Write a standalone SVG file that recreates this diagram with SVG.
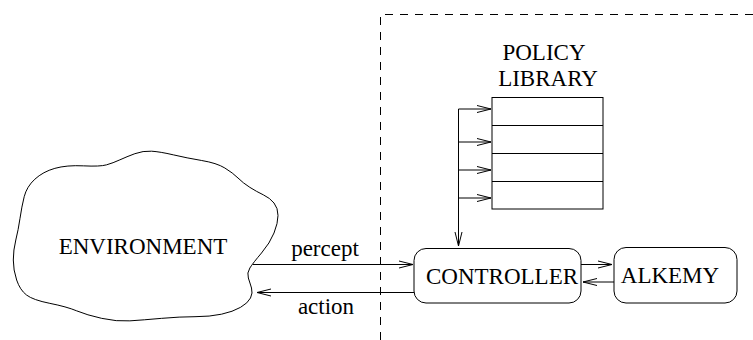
<svg xmlns="http://www.w3.org/2000/svg" width="753" height="340" viewBox="0 0 753 340">
<style>
.ln{fill:none;stroke:#000;stroke-width:1}
.bx{fill:#fff;stroke:#000;stroke-width:1}
.t{font-size:23px;fill:#000}
.dash{fill:none;stroke:#000;stroke-width:1;stroke-dasharray:8 7}
</style>
<defs>
<marker id="ah" markerUnits="userSpaceOnUse" markerWidth="20" markerHeight="12" refX="15" refY="6" orient="auto" viewBox="0 0 20 12">
<path d="M1,2.5 L15,6 L1,9.5" fill="none" stroke="#000" stroke-width="1"/>
</marker>
</defs>
<rect width="753" height="340" fill="#fff"/>
<g id="boundary">
<path class="dash" d="M380.5,340 L380.5,14.5 L753,14.5"/>
</g>
<g font-family="'Liberation Serif', 'Times New Roman', Times, serif">
<g id="environment">
<path class="ln" d="M24.2,196.7 Q26.7,186.7 34.85,179.2 Q43,171.7 54.85,168.35 Q66.7,165 83.35,165.85 Q100,166.7 106.5,164.85 Q113,163 119.85,159.85 Q126.7,156.7 134.85,153.7 Q143,150.7 151.5,151.2 Q160,151.7 173.35,154.85 Q186.7,158 201.7,160.5 Q216.7,163 224.85,168 Q233,173 238,178 Q243,183 249.850,187.35 Q256.7,191.7 263.35,194.85 Q270,198 274,203 Q278,208 278,215.5 Q278,223 274,233 Q270,243 261.5,253 Q253,263 249.85,268 Q246.7,273 248.35,278 Q250,283 251.5,288 Q253,293 250.5,298 Q248,303 240.5,307.35 Q233,311.7 221.5,314.2 Q210,316.7 195,316.7 Q180,316.7 161.5,318.35 Q143,320 129.85,320.85 Q116.7,321.7 101.7,318.35 Q86.7,315 76.7,310.85 Q66.7,306.7 49.85,303.35 Q33,300 26.5,295 Q20,290 16.65,280 Q13.3,270 13.3,260 Q13.3,250 15.8,240 Q18.3,230 20,218.35 Q21.7,206.7 24.2,196.7 Z"/>
<text class="t" x="143" y="254" text-anchor="middle">ENVIRONMENT</text>
</g>
<g id="policy-library">
<text class="t" x="544" y="60" text-anchor="middle">POLICY</text>
<text class="t" x="548" y="86" text-anchor="middle">LIBRARY</text>
<rect class="bx" x="492" y="97.5" width="111" height="111.5"/>
<path class="ln" d="M492,125.5 H603 M492,153.5 H603 M492,181.5 H603"/>
</g>
<g id="controller">
<rect class="bx" x="414" y="248.5" width="167" height="54.5" rx="12" ry="12"/>
<text class="t" x="502" y="284" text-anchor="middle">CONTROLLER</text>
</g>
<g id="alkemy">
<rect class="bx" x="614" y="247.5" width="123" height="55.5" rx="12" ry="12"/>
<text class="t" x="670" y="283" text-anchor="middle">ALKEMY</text>
</g>
<g id="connectors">
<path class="ln" d="M458.5,109 V246" marker-end="url(#ah)"/>
<path class="ln" d="M458.5,109 H491" marker-end="url(#ah)"/>
<path class="ln" d="M458.5,142 H491" marker-end="url(#ah)"/>
<path class="ln" d="M458.5,170 H491" marker-end="url(#ah)"/>
<path class="ln" d="M458.5,198 H491" marker-end="url(#ah)"/>
<path class="ln" d="M253,264.5 H413" marker-end="url(#ah)"/>
<path class="ln" d="M414,292.5 H257" marker-end="url(#ah)"/>
<path class="ln" d="M581,264.5 H612" marker-end="url(#ah)"/>
<path class="ln" d="M614,282 H583" marker-end="url(#ah)"/>
<text class="t" x="325" y="256" text-anchor="middle">percept</text>
<text class="t" x="326" y="314" text-anchor="middle">action</text>
</g>
</g>
</svg>
